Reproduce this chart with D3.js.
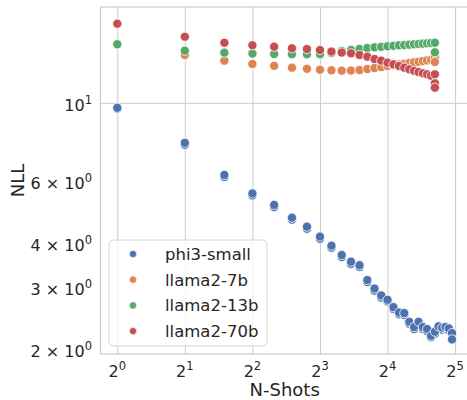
<!DOCTYPE html>
<html><head><meta charset="utf-8">
<script src="https://cdn.jsdelivr.net/npm/d3@7"></script>
<style>body{margin:0;background:#fff}svg{display:block}</style>
</head><body><svg id="c" width="467" height="400"></svg>
<script>
const seriesNames = ["phi3-small", "llama2-7b", "llama2-13b", "llama2-70b"];
const seriesColors = ["#4C72B0", "#DD8452", "#55A868", "#C44E52"];

const phiShots = [1,2,3,4,5,6,7,8,9,10,11,12,13,14,15,16,17,18,19,20,21,22,23,24,25,26,27,28,29,30,31,31];
const phiNLL   = [9.68,7.70,6.24,5.53,5.13,4.72,4.45,4.17,3.93,3.70,3.54,3.46,3.14,2.97,2.84,2.76,2.63,2.54,2.53,2.39,2.31,2.39,2.31,2.28,2.18,2.24,2.32,2.30,2.31,2.29,2.22,2.13];
// second (overlapping) run of phi3-small, visible as a ring under the dots
const phiShotsRun2 = [1,2,3,4,5,6,7,8,9,10,11,12,13,14,15,16,17,18,19,20,21,22,23,24,25,26,27,28,29,30,31];
const phiNLLRun2   = [9.62,7.60,6.16,5.46,5.06,4.66,4.39,4.11,3.88,3.65,3.49,3.42,3.10,2.93,2.80,2.73,2.60,2.51,2.50,2.36,2.28,2.36,2.28,2.25,2.16,2.21,2.29,2.27,2.28,2.26,2.20];

const llamaShots = [1,2,3,4,5,6,7,8,9,10,11,12,13,14,15,16,17,18,19,20,21,22,23,24,25,26];
const llama7bNLL  = [14.66,13.67,13.17,12.89,12.74,12.58,12.49,12.41,12.37,12.34,12.35,12.39,12.47,12.55,12.63,12.72,12.78,12.85,12.91,12.97,13.03,13.08,13.14,13.19,13.25,13.45];
const llama13bNLL = [14.66,14.06,13.88,13.80,13.76,13.74,13.73,13.74,13.85,14.03,14.13,14.22,14.31,14.37,14.42,14.47,14.52,14.56,14.59,14.62,14.66,14.69,14.72,14.75,14.78,14.81];
const llama70bNLL = [16.77,15.40,14.81,14.57,14.43,14.28,14.21,14.12,13.98,13.89,13.82,13.67,13.52,13.31,13.17,13.00,12.86,12.72,12.58,12.45,12.33,12.23,12.13,12.05,11.94,12.05];
// extra runs at the largest shot count
const lastLlamaShot = 26;
const llama7bExtra  = [13.06];
const llama13bExtra = [13.91];
const llama70bExtra = [11.36, 11.04];

const xTicks = [1, 2, 4, 8, 16, 32];
const xTickExp = ["0","1","2","3","4","5"];
const yTicks = [2, 3, 4, 6, 10];
const yTickBase = ["2 × 10", "3 × 10", "4 × 10", "6 × 10", "10"];
const yTickExp = ["0","0","0","0","1"];

const mLeft = 100.4, mRight = 472, mTop = 7, mBottom = 354;
const svg = d3.select("#c");
const font = "DejaVu Sans, sans-serif";
const textCol = "#262626";
const gridCol = "#cccccc";

const x = d3.scaleLog().base(2).domain([Math.pow(2,-0.25), Math.pow(2,5.25)]).range([mLeft, mRight]);
const y = d3.scaleLog().domain([Math.pow(10,0.287), Math.pow(10,1.272)]).range([mBottom, mTop]);

// grid via axes
const gx = svg.append("g").attr("transform", `translate(0,${mBottom})`)
  .call(d3.axisBottom(x).tickValues(xTicks).tickSize(-(mBottom-mTop)).tickFormat(""));
gx.select(".domain").remove();
gx.selectAll("line").attr("stroke", gridCol).attr("stroke-width", 1);

const gy = svg.append("g").attr("transform", `translate(${mLeft},0)`)
  .call(d3.axisLeft(y).tickValues([10]).tickSize(-(mRight-mLeft)).tickFormat(""));
gy.select(".domain").remove();
gy.selectAll("line").attr("stroke", gridCol).attr("stroke-width", 1);

// spines
svg.append("rect").attr("x", mLeft).attr("y", mTop).attr("width", mRight-mLeft).attr("height", mBottom-mTop)
  .attr("fill", "none").attr("stroke", gridCol).attr("stroke-width", 1.25);

// x tick labels
xTicks.forEach((t,i) => {
  const tx = svg.append("text").attr("x", x(t)).attr("y", 377).attr("text-anchor","middle")
    .attr("font-family", font).attr("font-size", 16).attr("fill", textCol);
  tx.append("tspan").text("2");
  tx.append("tspan").attr("dy", -7).attr("font-size", 11.5).text(xTickExp[i]);
});
// y tick labels
yTicks.forEach((t,i) => {
  const ty = svg.append("text").attr("x", 92).attr("y", y(t)+8).attr("text-anchor","end")
    .attr("font-family", font).attr("font-size", 16).attr("fill", textCol);
  ty.append("tspan").text(yTickBase[i]);
  ty.append("tspan").attr("dy", -7).attr("font-size", 11.5).text(yTickExp[i]);
});

// axis labels
svg.append("text").attr("x", (mLeft+mRight)/2 - 1.5).attr("y", 396).attr("text-anchor","middle")
  .attr("font-family", font).attr("font-size", 18).attr("fill", textCol).text("N-Shots");
svg.append("text").attr("transform", `translate(24,${(mTop+mBottom)/2}) rotate(-90)`).attr("text-anchor","middle")
  .attr("font-family", font).attr("font-size", 18).attr("fill", textCol).text("NLL");

// points
const pts = [];
phiShotsRun2.forEach((s,i) => pts.push({s, v: phiNLLRun2[i], k: 0}));
phiShots.forEach((s,i) => pts.push({s, v: phiNLL[i], k: 0}));
llamaShots.forEach((s,i) => pts.push({s, v: llama7bNLL[i], k: 1}));
llama7bExtra.forEach(v => pts.push({s: lastLlamaShot, v, k: 1}));
llamaShots.forEach((s,i) => pts.push({s, v: llama13bNLL[i], k: 2}));
llama13bExtra.forEach(v => pts.push({s: lastLlamaShot, v, k: 2}));
llamaShots.forEach((s,i) => pts.push({s, v: llama70bNLL[i], k: 3}));
llama70bExtra.forEach(v => pts.push({s: lastLlamaShot, v, k: 3}));

svg.append("g").selectAll("circle").data(pts).join("circle")
  .attr("cx", d => x(d.s)).attr("cy", d => y(d.v)).attr("r", 4.6)
  .attr("fill", d => seriesColors[d.k]).attr("stroke", "#fff").attr("stroke-width", 0.8);

// legend
const lg = svg.append("g");
lg.append("rect").attr("x", 109).attr("y", 240).attr("width", 158).attr("height", 106).attr("rx", 4)
  .attr("fill", "#fff").attr("fill-opacity", 0.8).attr("stroke", "#d6d6d6").attr("stroke-width", 1);
seriesNames.forEach((n,i) => {
  const cy = 254 + i*25.7;
  lg.append("circle").attr("cx", 133).attr("cy", cy).attr("r", 3.6).attr("fill", seriesColors[i])
    .attr("stroke", "#fff").attr("stroke-width", 0.6);
  lg.append("text").attr("x", 165).attr("y", cy + 6).attr("font-family", font).attr("font-size", 16.5)
    .attr("fill", textCol).text(n);
});
</script>
</body></html>
